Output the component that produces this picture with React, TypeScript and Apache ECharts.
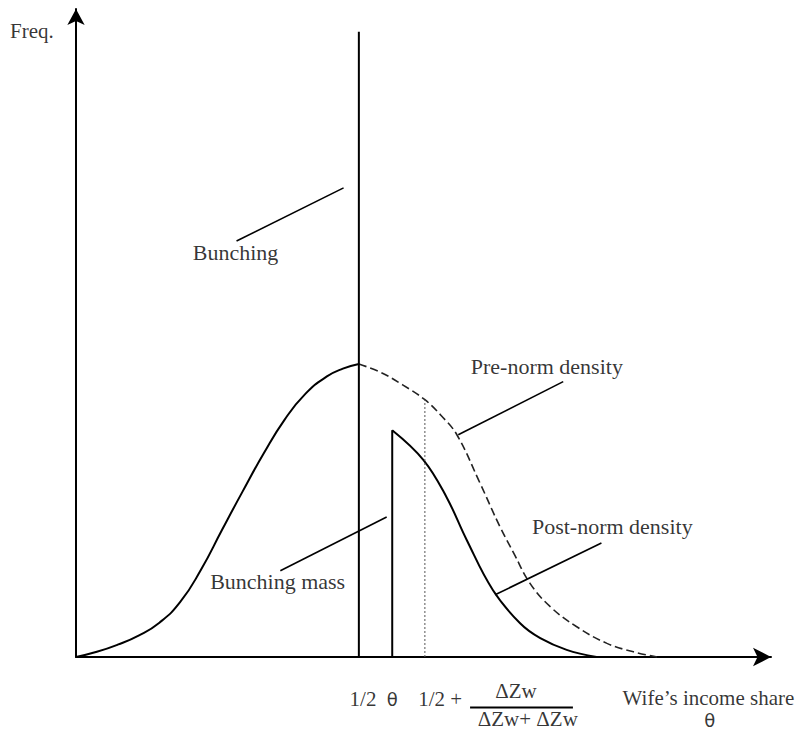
import React, { useEffect, useRef } from "react";
import * as echarts from "echarts";

// Density curves (x: wife's income share in chart units, y: frequency units)
const preNormLeft: number[][] = [
  [0, 0], [3, 0.8], [6, 1.9], [9, 3.3], [12, 5.3], [15, 8.5], [18, 13.5], [21, 19.6],
  [24, 25.6], [27, 31.4], [30, 36.6], [33, 40.6], [36.1, 43.3], [38.4, 44.5], [40.7, 45.2],
];
const preNormRight: number[][] = [
  [40.7, 45.2], [43.7, 44.0], [47.0, 42.0], [50.2, 39.7], [52.5, 37.3], [54.8, 34.3],
  [58.1, 26.9], [61.0, 20.1], [63.0, 16.0], [65.3, 11.4], [68.2, 7.8], [72.0, 4.7],
  [76.4, 2.1], [80.2, 0.8], [83.6, 0],
];
const postNorm: number[][] = [
  [45.5, 35.0], [50.0, 30.4], [53.3, 24.7], [56.2, 18.1], [60.0, 10.3],
  [63.9, 5.2], [66.8, 2.9], [70.6, 1.1], [74.9, 0],
];
const halfX = 40.7;
const halfTop = 96.5;
const thetaX = 45.5;
const thetaTop = 35.0;
const thresholdX = 50.2;
const thresholdTop = 39.7;

// Annotation texts
const annotationTexts = ["Bunching", "Bunching mass", "Pre-norm density", "Post-norm density"];
const tickTexts = ["1/2", "θ", "1/2 +", "ΔZw", "ΔZw+ ΔZw", "Wife’s income share", "θ", "Freq."];

// Layout (annotation anchors in chart units)
const annotationAnchors: number[][] = [[16.8, 62.5], [19.3, 11.7], [56.8, 44.8], [65.6, 20.1]];
const leaderLines: number[][][] = [
  [[23.1, 64.2], [38.5, 72.4]],
  [[29.4, 13.3], [44.7, 21.6]],
  [[55.0, 34.3], [70.1, 42.5]],
  [[60.3, 9.6], [75.6, 17.6]],
];
const tickAnchors: number[][] = [
  [41.3, -6.5], [45.5, -6.5], [52.4, -6.5], [63.3, -5.3], [65.0, -9.6],
  [91.0, -6.4], [91.2, -9.8], [-9.5, 96.6],
];
const fractionBar: number[][] = [[56.7, -7.8], [71.5, -7.8]];

const SERIF = "'Liberation Serif', 'Times New Roman', serif";
const SANS = "'DejaVu Sans', sans-serif";

export default function App() {
  const ref = useRef<HTMLDivElement>(null);
  useEffect(() => {
    if (!ref.current) return;
    const chart = echarts.init(ref.current, undefined, { renderer: "svg" });
    const black = "#000";
    const lineBase = {
      type: "line" as const,
      symbol: "none",
      silent: true,
      clip: false,
      animation: false,
    };
    const series: any[] = [
      { ...lineBase, data: preNormLeft, smooth: 0.5, lineStyle: { color: black, width: 2 } },
      { ...lineBase, data: preNormRight, smooth: 0.4, lineStyle: { color: "#222", width: 1.6, type: [8, 4] } },
      { ...lineBase, data: postNorm, smooth: 0.4, lineStyle: { color: black, width: 2 } },
      { ...lineBase, data: [[halfX, 0], [halfX, halfTop]], lineStyle: { color: black, width: 2 } },
      { ...lineBase, data: [[thetaX, 0], [thetaX, thetaTop]], lineStyle: { color: black, width: 2 } },
      { ...lineBase, data: [[thresholdX, 0], [thresholdX, thresholdTop]], lineStyle: { color: "#555", width: 1, type: [2, 2] } },
      ...leaderLines.map((l) => ({ ...lineBase, data: l, lineStyle: { color: black, width: 1.6 } })),
      { ...lineBase, data: fractionBar, lineStyle: { color: black, width: 2 } },
      {
        type: "scatter",
        silent: true,
        clip: false,
        symbolSize: 1,
        itemStyle: { color: "rgba(0,0,0,0)" },
        label: {
          show: true,
          position: "inside",
          color: black,
          fontFamily: SERIF,
          fontSize: 22,
          align: "left",
          verticalAlign: "middle",
          formatter: (p: any) => p.data.name,
        },
        data: [
          ...annotationTexts.map((t, i) => ({ name: t, value: annotationAnchors[i] })),
          ...tickTexts.map((t, i) => ({
            name: t,
            value: tickAnchors[i],
            label: {
              align: i === 7 ? "left" : "center",
              fontFamily: t === "θ" ? SANS : SERIF,
              fontSize: t === "θ" ? 18 : 21,
            },
          })),
        ],
      },
    ];
    chart.setOption({
      animation: false,
      grid: { left: 76, right: 32, top: 9, bottom: 76, containLabel: false },
      xAxis: {
        type: "value",
        min: 0,
        max: 100,
        axisLine: { show: true, lineStyle: { color: black, width: 2 }, symbol: ["none", "arrow"], symbolSize: [14, 18] },
        axisTick: { show: false },
        axisLabel: { show: false },
        splitLine: { show: false },
      },
      yAxis: {
        type: "value",
        min: 0,
        max: 100,
        axisLine: { show: true, lineStyle: { color: black, width: 2 }, symbol: ["none", "arrow"], symbolSize: [13, 16] },
        axisTick: { show: false },
        axisLabel: { show: false },
        splitLine: { show: false },
      },
      series,
    });
    return () => chart.dispose();
  }, []);
  return <div ref={ref} style={{ position: "absolute", left: 0, top: 0, width: 803, height: 733 }} />;
}
